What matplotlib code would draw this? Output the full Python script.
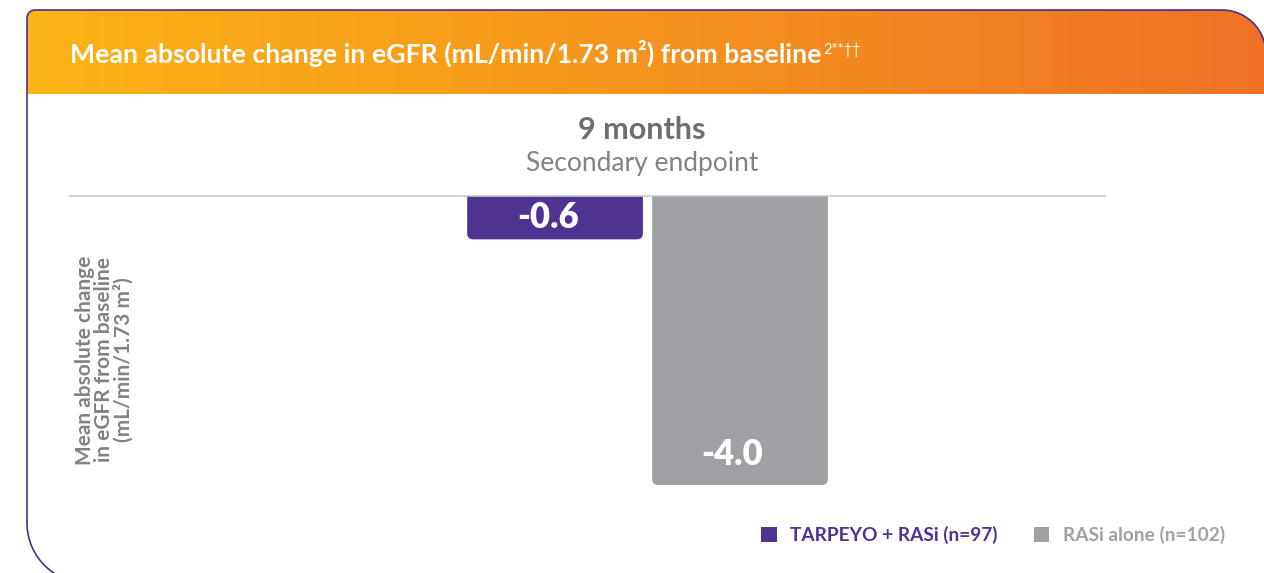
"""
Mean absolute change in eGFR from baseline - 9 month bar card
"""

import numpy as np
import matplotlib.pyplot as plt
from matplotlib.patches import FancyBboxPatch, Patch, PathPatch
from matplotlib.path import Path
from matplotlib.colors import LinearSegmentedColormap

# ── Data ──────────────────────────────────────────────────────────────────────
groups = ["TARPEYO + RASi (n=97)", "RASi alone (n=102)"]
values = [-0.6, -4.0]
value_labels = ["-0.6", "-4.0"]
bar_colors = ["#4F3392", "#A0A1A5"]
legend_text_colors = ["#4F3392", "#A0A1A5"]

TITLE = "Mean absolute change in eGFR (mL/min/1.73 m²) from baseline"
TITLE_SUP = "2**††"
PERIOD = "9 months"
ENDPOINT = "Secondary endpoint"
YLABEL = "Mean absolute change\nin eGFR from baseline\n(mL/min/1.73 m²)"

# ── Layout (pixels) ───────────────────────────────────────────────────────────
W, H = 1264, 573
FONT = ["Lato", "DejaVu Sans"]
plt.rcParams["font.family"] = FONT

fig = plt.figure(figsize=(W / 100, H / 100), dpi=100)
bg = fig.add_axes([0, 0, 1, 1])
bg.set_xlim(0, W)
bg.set_ylim(H, 0)
bg.axis("off")


def arc(cx, cy, r, a0, a1, n=30):
    t = np.radians(np.linspace(a0, a1, n))
    return np.column_stack([cx + r * np.cos(t), cy + r * np.sin(t)])


# card outline (y axis points down)
pts = np.vstack([
    [[27, 523]],
    [[27, 18]],
    arc(35, 18, 8, 180, 270),
    [[1222, 10]],
    arc(1222, 54, 44, 270, 360),
    [[1266, 590]],
    [[90, 590]],
    arc(87, 523, 60, 90, 180),
])
card = Path(pts)

# header gradient clipped to card
grad = np.linspace(0, 1, 256).reshape(1, -1)
hcmap = LinearSegmentedColormap.from_list("hdr", ["#FBB415", "#F6941E", "#F07126"])
im = bg.imshow(grad, cmap=hcmap, extent=(27, 1266, 94, 10), aspect="auto", zorder=1)
clip = PathPatch(card, transform=bg.transData, facecolor="none", edgecolor="none")
bg.add_patch(clip)
im.set_clip_path(clip)
bg.add_patch(PathPatch(card, facecolor="none", edgecolor="#4B2E91", lw=1.2, zorder=3))
bg.set_xlim(0, W)
bg.set_ylim(H, 0)

title = bg.text(70, 53, TITLE, color="white", fontsize=19.2, fontweight="bold",
                ha="left", va="center", zorder=4)
bg.annotate(TITLE_SUP, xy=(1, 0.85), xycoords=title, xytext=(1, 0),
            textcoords="offset points", color="white", fontsize=10.5,
            ha="left", va="top", zorder=4)

bg.text(642, 130, PERIOD, color="#6D6E71", fontsize=22, fontweight="bold",
        ha="center", va="center")
bg.text(642, 163, ENDPOINT, color="#808285", fontsize=19, fontweight="normal",
        ha="center", va="center")

bg.text(104, 360, YLABEL, color="#808285", fontsize=15, fontweight="bold",
        rotation=90, ha="center", va="center", multialignment="center",
        linespacing=0.95)

# ── Bar axes ──────────────────────────────────────────────────────────────────
ax_l, ax_r, ax_t, ax_b = 70, 1105, 196, 485
ax = fig.add_axes([ax_l / W, 1 - ax_b / H, (ax_r - ax_l) / W, (ax_b - ax_t) / H])
ax.patch.set_visible(False)
x = np.arange(len(values))
ax.set_xlim(-2.622, 2.973)
ax.set_ylim(-4.0, 0)
for s in ax.spines.values():
    s.set_visible(False)
ax.set_xticks([])
ax.set_yticks([])

bars = ax.bar(x, values, width=0.95, color=bar_colors)
px_x = (ax_r - ax_l) / (2.973 + 2.622)
px_y = (ax_b - ax_t) / 4.0
r = 6 / px_x
for b, c in zip(bars, bar_colors):
    x0 = b.get_x()
    w = b.get_width()
    h = b.get_height()
    fb = FancyBboxPatch((x0, h), w, -h + 0.5,
                        boxstyle=f"round,pad=0,rounding_size={r}",
                        mutation_aspect=px_x / px_y,
                        facecolor=c, edgecolor="none", zorder=2)
    ax.add_patch(fb)
    b.set_visible(False)

ax.axhline(0, color="#C8C8C8", lw=1.2, zorder=3, clip_on=False)

for xi, v, lab in zip(x, values, value_labels):
    yl = min(v / 2, v + 0.42)
    ax.text(xi - 0.04, yl, lab, color="white", fontsize=25, fontweight="heavy",
            ha="center", va="center", zorder=4)

# ── Legend ────────────────────────────────────────────────────────────────────
handles = [Patch(facecolor=c, edgecolor="none") for c in bar_colors]
leg = fig.legend(handles, groups, loc="center left",
                 bbox_to_anchor=(744 / W, 1 - 535 / H), ncol=2, frameon=False,
                 handlelength=0.8, handleheight=0.8, handletextpad=0.7,
                 columnspacing=1.9, prop={"family": FONT, "size": 13.8, "weight": "bold"})
for t, c in zip(leg.get_texts(), legend_text_colors):
    t.set_color(c)

plt.savefig("out.png", dpi=100)
